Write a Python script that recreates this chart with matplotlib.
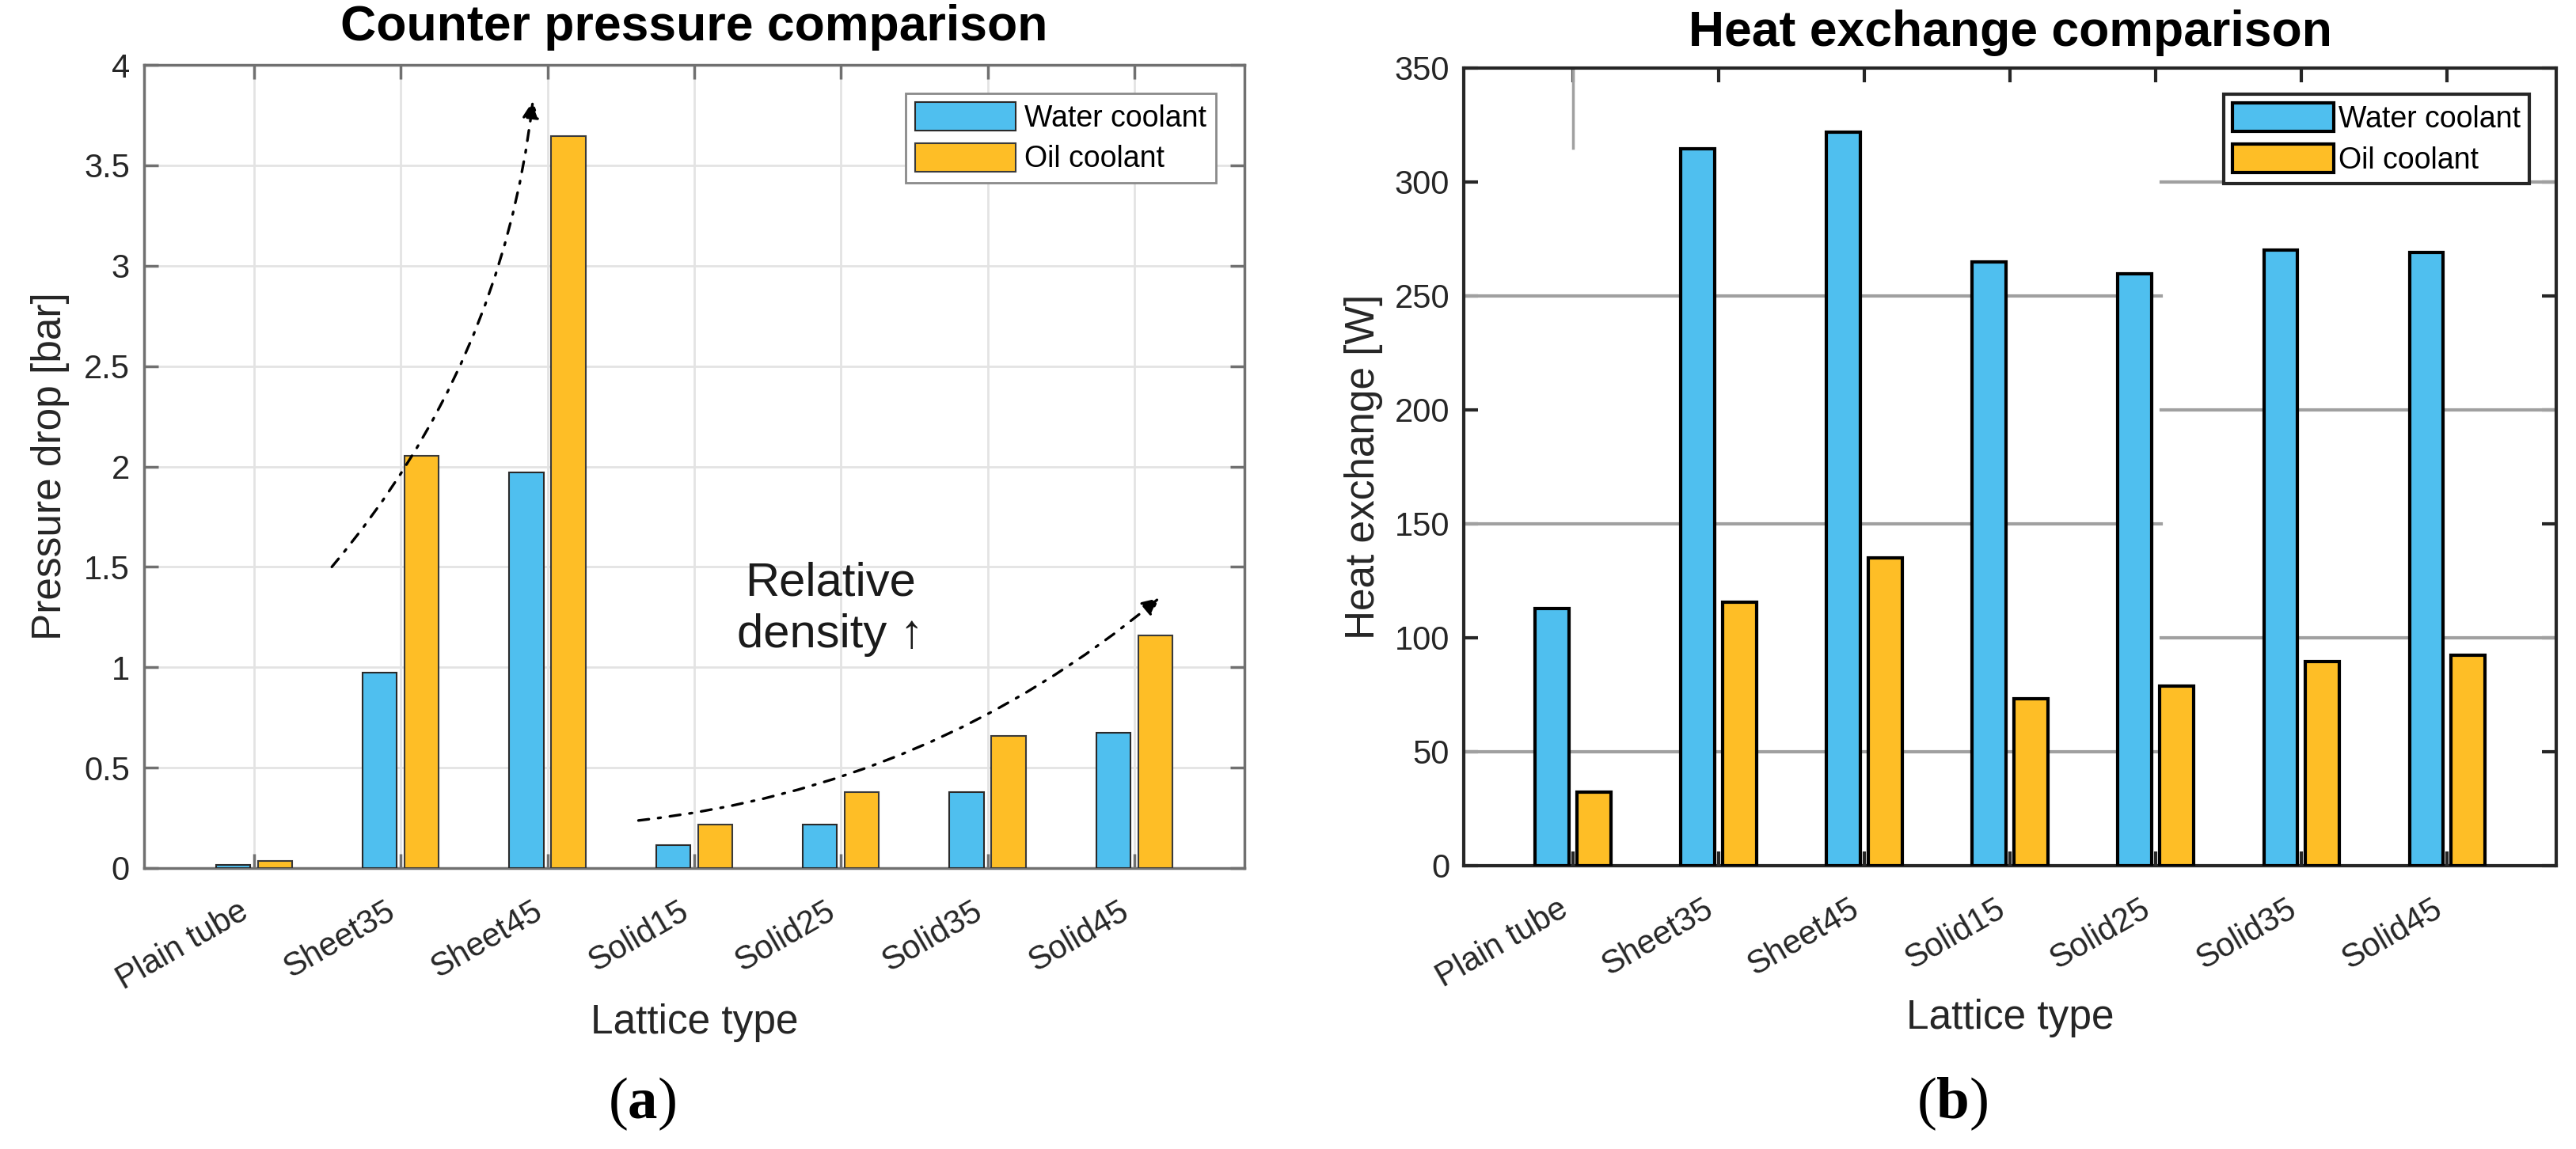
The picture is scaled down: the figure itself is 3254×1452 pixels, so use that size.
import numpy as np
import matplotlib
matplotlib.use("Agg")
import matplotlib.pyplot as plt

plt.rcParams['font.family'] = ['Liberation Sans', 'DejaVu Sans']
plt.rcParams['mathtext.fontset'] = 'custom'
plt.rcParams['mathtext.rm'] = 'Liberation Serif'
plt.rcParams['mathtext.bf'] = 'Liberation Serif:bold'

# data
lattices = ["Plain tube", "Sheet35", "Sheet45", "Solid15",
            "Solid25", "Solid35", "Solid45"]
drop_water = [0.015, 0.975, 1.97, 0.113, 0.215, 0.378, 0.672]
drop_oil = [0.036, 2.055, 3.645, 0.215, 0.378, 0.66, 1.16]
heat_water = [112.7, 314.4, 321.8, 264.9, 259.8, 270.1, 269.1]
heat_oil = [32.1, 115.6, 135.2, 73.2, 78.7, 89.6, 92.2]
series_names = ["Water coolant", "Oil coolant"]

BLUE = "#4FBFEF"
YELLOW = "#FEBE26"

x = np.arange(1, len(lattices) + 1)
bw = 0.233
off = 0.143

fig = plt.figure(figsize=(32.55, 14.52), dpi=100)
ax1 = fig.add_axes([0.0559, 0.2445, 0.4270, 0.6990])
ax2 = fig.add_axes([0.5681, 0.2466, 0.4240, 0.6942])


def style_axes(ax, spine_col, spine_lw, tick_col):
    ax.set_xlim(0.25, 7.75)
    ax.set_xticks(x)
    ax.set_xticklabels(lattices, rotation=30, ha="right", va="bottom",
                       rotation_mode="anchor", fontsize=30, color="#262626")
    ax.tick_params(axis="both", direction="in", top=True, right=True,
                   length=13, width=spine_lw, color=tick_col,
                   labelsize=30, labelcolor="#262626")
    ax.tick_params(axis="y", pad=13)
    ax.tick_params(axis="x", pad=50)
    for s in ax.spines.values():
        s.set_color(spine_col)
        s.set_linewidth(spine_lw)
    ax.set_axisbelow(True)


# (a) pressure drop
ax1.bar(x - off, drop_water, bw, color=BLUE, edgecolor="#2a2a2a",
        linewidth=1.5, label=series_names[0], zorder=3)
ax1.bar(x + off, drop_oil, bw, color=YELLOW, edgecolor="#3a3a3a",
        linewidth=1.5, label=series_names[1], zorder=3)
style_axes(ax1, "#707070", 2.5, "#707070")
ax1.set_ylim(0, 4)
ax1.set_yticks(np.arange(0, 4.01, 0.5))
ax1.set_yticklabels(["0", "0.5", "1", "1.5", "2", "2.5", "3", "3.5", "4"])
ax1.grid(True, color="#e3e3e3", linewidth=2)
ax1.set_title("Counter pressure comparison", fontsize=45, fontweight="bold",
              pad=22)
ax1.set_ylabel("Pressure drop [bar]", fontsize=37, color="#262626")
ax1.set_xlabel("Lattice type", fontsize=37, color="#262626")
ax1.yaxis.set_label_coords(-0.085, 0.5)
ax1.xaxis.set_label_coords(0.5, -0.193)
ax1.xaxis.label.set_va("center")
ax1.yaxis.label.set_va("center")

leg1 = ax1.legend(loc="upper right", bbox_to_anchor=(0.974, 0.965),
                  borderaxespad=0, fontsize=27, handlelength=3.4,
                  handleheight=1.1, handletextpad=0.3, labelspacing=0.35,
                  borderpad=0.3, fancybox=False, framealpha=1)
leg1.get_frame().set_edgecolor("#8a8a8a")
leg1.get_frame().set_linewidth(2)

dashdot = (0, (4, 3.5, 1, 3.5))
ax1.annotate("", xy=(2.9, 3.82), xytext=(1.53, 1.5),
             arrowprops=dict(arrowstyle="-|>", linestyle=dashdot, lw=2.4,
                             color="black", mutation_scale=32,
                             connectionstyle="arc3,rad=0.15",
                             shrinkA=0, shrinkB=0))
ax1.annotate("", xy=(7.17, 1.345), xytext=(3.62, 0.237),
             arrowprops=dict(arrowstyle="-|>", linestyle=dashdot, lw=2.4,
                             color="black", mutation_scale=32,
                             connectionstyle="arc3,rad=0.15",
                             shrinkA=0, shrinkB=0))
ax1.text(4.93, 1.29, "Relative\ndensity \u2191", fontsize=43, ha="center",
         va="center", color="#1a1a1a", linespacing=1.25)

# (b) heat exchange
ax2.bar(x - off, heat_water, bw, color=BLUE, edgecolor="black",
        linewidth=3, label=series_names[0], zorder=3)
ax2.bar(x + off, heat_oil, bw, color=YELLOW, edgecolor="black",
        linewidth=3, label=series_names[1], zorder=3)
style_axes(ax2, "#262626", 3, "#262626")
ax2.set_ylim(0, 350)
ax2.set_yticks(np.arange(0, 351, 50))
# broken-looking grid as in the source figure
split = 0.638
for i, yv in enumerate(range(50, 350, 50)):
    if i % 2 == 0:
        ax2.axhline(yv, xmin=0, xmax=split, color="#a0a0a0", lw=3,
                    zorder=1)
    else:
        ax2.axhline(yv, xmin=split, xmax=1, color="#a0a0a0", lw=3,
                    zorder=1)
ax2.axvline(1, ymin=315 / 350, ymax=1, color="#a0a0a0", lw=2.5, zorder=1)
ax2.set_title("Heat exchange comparison", fontsize=45, fontweight="bold",
              pad=20)
ax2.set_ylabel("Heat exchange [W]", fontsize=37, color="#262626")
ax2.set_xlabel("Lattice type", fontsize=37, color="#262626")
ax2.yaxis.set_label_coords(-0.092, 0.5)
ax2.xaxis.set_label_coords(0.5, -0.191)
ax2.xaxis.label.set_va("center")
ax2.yaxis.label.set_va("center")

leg2 = ax2.legend(loc="upper right", bbox_to_anchor=(0.975, 0.967),
                  borderaxespad=0, fontsize=27, handlelength=3.4,
                  handleheight=1.1, handletextpad=0.15, labelspacing=0.35,
                  borderpad=0.3, fancybox=False, framealpha=1)
leg2.get_frame().set_edgecolor("#262626")
leg2.get_frame().set_linewidth(3)

# panel labels
fig.text(811 / 3255, 1 - 1395 / 1452, r"($\mathbf{a}$)", fontsize=54,
         ha="center", va="center", family="Liberation Serif")
fig.text(2466 / 3255, 1 - 1395 / 1452, r"($\mathbf{b}$)", fontsize=54,
         ha="center", va="center", family="Liberation Serif")

fig.savefig("out.png", dpi=100, facecolor="white")
